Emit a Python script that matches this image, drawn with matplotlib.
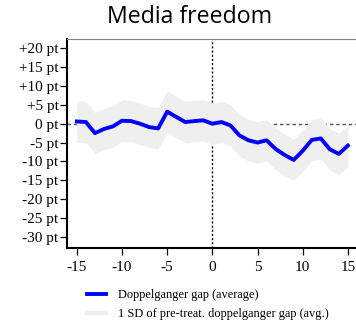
import numpy             as np
import matplotlib.pyplot as plt
from matplotlib.lines   import Line2D

years   = list(range(-15, 16))
gap     = [0.6, 0.45, -2.5, -1.4, -0.7, 0.8, 0.7, 0.0, -0.9, -1.25,
           3.2, 1.8, 0.45, 0.7, 0.9, 0.0, 0.45, -0.45, -3.1, -4.4,
           -5.0, -4.4, -6.7, -8.3, -9.6, -7.2, -4.3, -3.9, -6.8, -8.0, -5.8]
sd      = 5.5  # pre-treatment SD of gap
yticks  = [20, 15, 10, 5, 0, -5, -10, -15, -20, -25, -30]
ylabels = ['+%d pt' % v if v > 0 else '%d pt' % v for v in yticks]
xticks  = [-15, -10, -5, 0, 5, 10, 15]

serif = 'Liberation Serif'

fig = plt.figure(figsize=(3.56, 3.21), dpi=100)
ax  = fig.add_axes([0.188, 0.2274, 0.812, 0.6511])

g = np.array(gap)
ax.axhline(0, color='#555555', lw=1.0, ls=(0, (2.5, 2)), zorder=1)
ax.axvline(0, color='black', lw=1.0, ls=(0, (1.5, 1.5)), zorder=1)
ax.fill_between(years, g - sd, g + sd, color='#efefef', lw=0, zorder=2)
ax.plot(years, gap, color='#0000ff', lw=2.8, zorder=3)

ax.set_xlim(-16.1, 15.9)
ax.set_ylim(-33, 22.5)
ax.set_yticks(yticks)
ax.set_yticklabels(ylabels, fontfamily=serif, fontsize=11)
ax.set_xticks(xticks)
ax.set_xticklabels([str(v) for v in xticks], fontfamily=serif, fontsize=11)
ax.tick_params(axis='y', direction='out', length=5, width=0.9, pad=1)
ax.tick_params(axis='x', direction='out', length=5, width=0.9, pad=4)

for s in ['left', 'bottom']:
    ax.spines[s].set_linewidth(1.5)
ax.spines['top'].set_color('#888888')
ax.spines['top'].set_linewidth(0.8)
ax.spines['right'].set_visible(False)

fig.text(0.532, 0.947, 'Media freedom', ha='center', va='center',
         fontfamily='Open Sans', fontsize=16.7)

handles = [Line2D([0], [0], color='#0000ff', lw=2.8),
           Line2D([0], [0], color='#eeeeee', lw=3.2)]
labels  = ['Doppelganger gap (average)', '1 SD of pre-treat. doppelganger gap (avg.)']
fig.legend(handles, labels, loc='upper left', bbox_to_anchor=(0.245, 0.1),
           frameon=False, prop={'family': serif, 'size': 8.9},
           handlelength=1.55, handletextpad=0.9, labelspacing=0.6,
           borderaxespad=0, borderpad=0)

fig.savefig('out.png', dpi=100)
